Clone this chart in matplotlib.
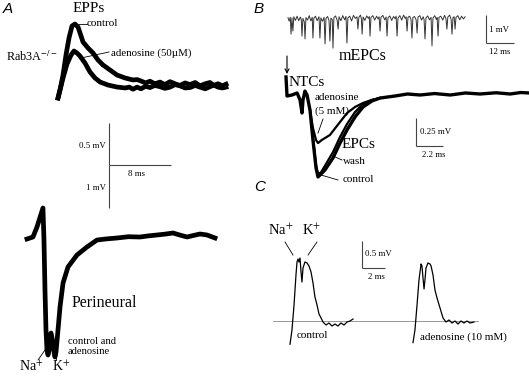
import numpy as np
import matplotlib
matplotlib.use("Agg")
import matplotlib.pyplot as plt

plt.rcParams['font.family'] = ['Liberation Serif', 'DejaVu Serif']
plt.rcParams['mathtext.fontset'] = 'stix'

W, H = 529, 376

# ---------------- data (ms, mV) ----------------
# Panel A: EPPs
EPP_T = [0, 0.26, 0.65, 1.03, 1.42, 1.81, 2.19, 2.58, 2.97, 3.23, 3.87, 4.52, 5.16, 5.81,
         6.71, 7.61, 8.65, 9.68, 10.2, 10.71, 11.3, 11.87, 12.5, 13.16, 13.8, 14.45, 15.1,
         15.74, 16.4, 17.03, 17.7, 18.32, 19.0, 19.61, 20.1, 20.65, 21.2, 21.68]
EPP_CONTROL = [-0.06, 0.036, 0.214, 0.452, 0.655, 0.798, 0.821, 0.786, 0.679, 0.607, 0.536,
               0.476, 0.393, 0.333, 0.274, 0.214, 0.179, 0.155, 0.16, 0.143, 0.12, 0.14,
               0.11, 0.13, 0.10, 0.135, 0.11, 0.09, 0.12, 0.10, 0.125, 0.085, 0.11, 0.125,
               0.09, 0.11, 0.085, 0.105]
EPP_T_ADO = [0, 0.26, 0.65, 1.16, 1.68, 2.06, 2.45, 2.84, 3.48, 4.13, 4.77, 5.42, 6.45, 7.61,
             8.65, 9.2, 9.68, 10.2, 10.71, 11.3, 11.87, 12.5, 13.16, 13.8, 14.45, 15.1, 15.74,
             16.4, 17.03, 17.7, 18.32, 19.0, 19.61, 20.1, 20.65, 21.2, 21.68]
EPP_ADENOSINE = [-0.06, 0.036, 0.179, 0.345, 0.452, 0.5, 0.476, 0.440, 0.357, 0.250, 0.179,
                 0.131, 0.095, 0.071, 0.060, 0.07, 0.045, 0.07, 0.05, 0.08, 0.065, 0.09,
                 0.075, 0.055, 0.07, 0.10, 0.085, 0.06, 0.065, 0.09, 0.07, 0.05, 0.075, 0.095,
                 0.07, 0.06, 0.07]

# Panel A: perineural
PERI_T = [0, 0.77, 1.29, 2.06, 2.19, 2.32, 2.45, 2.58, 2.71, 2.84, 2.97, 3.10, 3.23, 3.48,
          3.61, 3.74, 4.0, 4.26, 4.65, 5.29, 6.45, 7.74, 9.03, 10.3, 11.61, 13.1, 14.58,
          15.7, 16.77, 17.8, 18.84, 19.7, 20.65, 21.5, 22.32, 23.23, 24.26]
PERI_V = [-0.023, 0.023, 0.256, 0.698, -0.047, -1.209, -2.140, -2.605, -2.721, -2.605,
          -2.256, -2.209, -2.326, -2.651, -2.767, -2.651, -2.140, -1.605, -1.047, -0.674,
          -0.395, -0.209, -0.047, -0.02, 0.0, 0.03, 0.023, 0.05, 0.070, 0.09, 0.116, 0.07,
          0.023, 0.06, 0.093, 0.070, 0.0]

# Panel B: mEPCs (time ms, amplitude mV)
MEPC = [(0.0, 0.05), (0.5, -0.08), (1.0, 0.06), (1.3, -0.54), (1.7, 0.04), (2.1, -0.43),
        (2.5, 0.08), (3.2, -0.05), (3.9, 0.10), (4.6, -0.06), (5.3, 0.07), (5.7, -0.02),
        (6.0, -0.61), (6.4, 0.02), (7.0, -0.10), (7.3, -0.71), (7.7, 0.05), (8.4, -0.04),
        (9.1, 0.12), (9.8, -0.07), (10.4, 0.06), (10.7, -0.68), (11.1, 0.03), (11.8, 0.10),
        (12.5, -0.06), (13.3, 0.08), (13.7, -0.68), (14.1, 0.04), (14.8, -0.08), (15.5, 0.06),
        (15.9, -0.89), (16.3, 0.02), (17.0, 0.09), (17.6, -0.05), (18.0, -0.79), (18.4, 0.03),
        (19.0, -0.02), (19.3, -1.04), (19.7, 0.05), (20.4, 0.11), (21.1, -0.04), (21.5, -0.36),
        (21.9, 0.08), (22.7, -0.06), (23.5, 0.12), (24.3, -0.03), (24.9, 0.09), (25.3, -0.86),
        (25.7, 0.04), (26.5, 0.10), (27.3, -0.07), (28.1, 0.13), (28.9, 0.02), (29.6, 0.08),
        (30.0, -0.36), (30.4, 0.06), (31.1, 0.14), (31.5, 0.0), (31.8, -0.54), (32.2, 0.07),
        (33.0, -0.05), (33.8, 0.11), (34.5, 0.02), (34.9, 0.09), (35.2, -0.61), (35.6, 0.05),
        (36.4, 0.12), (37.2, -0.04), (38.0, 0.10), (38.7, 0.0), (39.1, 0.08), (39.5, -0.43),
        (39.9, 0.06), (40.7, 0.13), (41.5, -0.03), (42.1, 0.07), (42.5, -0.61), (42.9, 0.04),
        (43.7, 0.11), (44.5, -0.05), (45.3, 0.09), (46.0, 0.01), (46.4, 0.10), (46.8, -0.61),
        (47.2, 0.03), (48.0, 0.12), (48.8, -0.04), (49.6, 0.14), (50.3, 0.02), (50.7, 0.08),
        (51.1, -0.43), (51.5, 0.06), (52.2, 0.10), (52.8, -0.02), (53.2, -0.68), (53.6, 0.05),
        (54.3, 0.09), (55.0, -0.03), (55.4, -0.50), (55.8, 0.07), (56.6, 0.12), (57.3, -0.04),
        (58.0, 0.08), (58.4, -0.02), (58.8, -0.71), (59.2, 0.04), (60.0, 0.11), (60.7, -0.03),
        (61.4, 0.06), (61.8, -0.96), (62.2, 0.03), (63.0, 0.12), (63.7, -0.02), (64.0, 0.05),
        (64.4, -0.61), (64.8, 0.06), (65.6, 0.10), (66.4, -0.04), (67.2, 0.13), (67.8, 0.01),
        (68.2, -0.36), (68.6, 0.07), (69.4, 0.14), (70.0, -0.02), (70.4, -0.54), (70.8, 0.05),
        (71.3, 0.08), (71.7, -0.36), (72.1, 0.06), (72.9, 0.12), (73.7, -0.03), (74.5, 0.10),
        (75.3, 0.0), (76.0, 0.08)]

# Panel B: NTC / EPC traces
EPC_T = [-0.08, 0, 0.41, 0.82, 1.06, 1.22, 1.30, 1.46, 1.63, 1.87, 2.11, 2.36, 2.52, 2.69,
         3.09, 3.74, 4.31, 4.88, 5.53, 6.18, 6.91, 7.57, 8.78, 9.8, 10.82, 12.0, 13.27, 14.5,
         15.7, 17.0, 18.14, 19.0, 19.69]
EPC_CONTROL = [0.161, -0.009, 0.0, 0.018, -0.044, -0.161, -0.044, 0.035, 0.0, -0.134, -0.401,
               -0.651, -0.732, -0.714, -0.669, -0.562, -0.429, -0.312, -0.196, -0.107, -0.053,
               -0.027, -0.009, 0.009, 0.0, 0.013, 0.0, 0.018, 0.009, 0.02, 0.009, 0.022, 0.018]
EPC_T_ADO = [1.87, 2.11, 2.36, 2.52, 2.84, 3.49, 4.31, 4.88, 5.53, 6.18, 6.91, 7.57]
EPC_ADENOSINE = [-0.134, -0.295, -0.401, -0.429, -0.401, -0.357, -0.241, -0.161, -0.107,
                 -0.071, -0.044, -0.027]
EPC_T_WASH = [1.87, 2.11, 2.36, 2.52, 2.77, 3.17, 3.74, 4.31, 4.88, 5.53, 6.18, 6.91, 7.57]
EPC_WASH = [-0.134, -0.383, -0.625, -0.705, -0.690, -0.616, -0.509, -0.375, -0.259, -0.152,
            -0.080, -0.044, -0.027]

# Panel C
C_T_CONTROL = [0, 0.17, 0.35, 0.52, 0.61, 0.70, 0.78, 0.87, 0.96, 1.04, 1.13, 1.30, 1.48,
               1.65, 1.83, 2.0, 2.17, 2.35, 2.52, 2.70, 2.87, 3.13, 3.39, 3.65, 3.91, 4.17,
               4.43, 4.70, 4.96, 5.22, 5.48]
C_CONTROL = [-0.43, -0.17, 0.296, 0.852, 1.093, 1.148, 1.093, 1.167, 0.907, 0.722, 0.981,
             1.093, 1.074, 1.019, 0.907, 0.704, 0.444, 0.296, 0.130, 0.056, -0.019, -0.074,
             -0.037, -0.093, -0.056, -0.093, -0.037, -0.074, -0.019, 0.0, 0.037]
C_T_ADO = [0, 0.17, 0.35, 0.52, 0.70, 0.78, 0.87, 0.96, 1.04, 1.13, 1.30, 1.48, 1.57, 1.74,
           1.91, 2.09, 2.35, 2.61, 2.87, 3.13, 3.39, 3.65, 3.91, 4.17, 4.43, 4.70, 4.96, 5.30]
C_ADENOSINE = [-0.40, -0.167, 0.296, 0.759, 1.056, 1.019, 0.796, 0.593, 0.759, 0.981, 1.074,
               1.056, 1.019, 0.852, 0.574, 0.426, 0.241, 0.056, -0.019, 0.019, -0.037, 0.0,
               -0.056, 0.0, -0.037, 0.0, -0.037, -0.019]

# ---------------- figure ----------------
fig = plt.figure(figsize=(W / 100, H / 100), dpi=100)


def trace_axes(x0, y0, ppx, ppy):
    """Transparent full-figure axes whose data origin sits at pixel (x0, y0)."""
    ax = fig.add_axes([0, 0, 1, 1])
    ax.axis('off')
    ax.patch.set_alpha(0)
    ax.set_xlim(-x0 / ppx, (W - x0) / ppx)
    ax.set_ylim(-(H - y0) / ppy, y0 / ppy)
    ax.px = lambda px, py: ((px - x0) / ppx, (y0 - py) / ppy)
    return ax


SB = dict(color='#444444', lw=0.8, solid_capstyle='butt')

# EPPs
axe = trace_axes(58, 93, 7.75, 84)
axe.plot(EPP_T, EPP_CONTROL, color='black', lw=3.4, solid_joinstyle='round')
axe.plot(EPP_T_ADO, EPP_ADENOSINE, color='black', lw=3.4, solid_joinstyle='round')
cx, cy = axe.px(109, 165)
axe.plot([cx, cx], [cy, cy + 0.5], **SB)
axe.plot([cx, cx + 8], [cy, cy], **SB)

# Perineural
axp = trace_axes(27, 238, 7.75, 43)
axp.plot(PERI_T, PERI_V, color='black', lw=3.4, solid_joinstyle='round')
cx, cy = axp.px(109, 165)
axp.plot([cx, cx], [cy, cy - 1.0], **SB)

# mEPCs
axm = trace_axes(288, 19, 2.33, 28)
mt, mv = np.array(MEPC).T
axm.plot(mt, mv, color='#333333', lw=0.7)
cx, cy = axm.px(486, 43)
axm.plot([cx, cx], [cy, cy + 1.0], **SB)
axm.plot([cx, cx + 12], [cy, cy], **SB)

# NTC / EPCs
axb = trace_axes(287, 95, 12.3, 112)
axb.plot(EPC_T_WASH, EPC_WASH, color='black', lw=1.6)
axb.plot(EPC_T_ADO, EPC_ADENOSINE, color='black', lw=1.6)
axb.plot(EPC_T, EPC_CONTROL, color='black', lw=2.4, solid_joinstyle='round')
cx, cy = axb.px(416, 146)
axb.plot([cx, cx], [cy, cy + 0.25], **SB)
axb.plot([cx, cx + 2.2], [cy, cy], **SB)

# Panel C
axc = trace_axes(290, 321, 11.5, 54)
x_a, _ = axc.px(273, 0)
x_b, _ = axc.px(478, 0)
axc.plot([x_a, x_b], [0, 0], color='#888888', lw=0.6)
axc.plot(C_T_CONTROL, C_CONTROL, color='black', lw=0.9)
cx, cy = axc.px(362, 268)
axc.plot([cx, cx], [cy, cy + 0.5], **SB)
axc.plot([cx, cx + 2], [cy, cy], **SB)
axc2 = trace_axes(413, 321, 11.5, 54)
axc2.plot(C_T_ADO, C_ADENOSINE, color='black', lw=0.9)

# ---------------- text overlay (pixel coordinates) ----------------
ov = fig.add_axes([0, 0, 1, 1])
ov.set_xlim(0, W)
ov.set_ylim(H, 0)
ov.axis('off')
ov.patch.set_alpha(0)

sans_it = dict(family=['Liberation Sans', 'DejaVu Sans'], style='italic', fontsize=11)
ov.text(3, 2, 'A', va='top', ha='left', **sans_it)
ov.text(254, 2, 'B', va='top', ha='left', **sans_it)
ov.text(254, 180, 'C', va='top', ha='left', **sans_it)


def t(x, y, s, size, ha='left', va='center'):
    ov.text(x, y, s, fontsize=size, ha=ha, va=va)


def leader(x1, y1, x2, y2):
    ov.plot([x1, x2], [y1, y2], color='black', lw=0.6)


# Panel A labels
t(89, 9, 'EPPs', 11, ha='center')
t(6, 57, r'Rab3A$^{-/-}$', 8.8)
t(87, 24, 'control', 8)
leader(78, 24, 87, 24)
t(111, 53, 'adenosine (50µM)', 7.8)
leader(81, 58, 109, 52)
t(106, 146, '0.5 mV', 6.3, ha='right')
t(136, 174, '8 ms', 6.3, ha='center')
t(106, 188, '1 mV', 6.3, ha='right')
t(72, 303, 'Perineural', 11.5)
t(68, 341, 'control and', 7.6)
t(68, 351, 'adenosine', 7.6)
t(31, 367, r'Na$^{+}$', 10, ha='center')
t(61, 367, r'K$^{+}$', 10, ha='center')
leader(38, 360, 45, 350)
leader(56, 360, 56, 354)

# Panel B labels
t(363, 56, 'mEPCs', 11.5, ha='center')
t(489, 30, '1 mV', 6.3)
t(500, 52, '12 ms', 6.3, ha='center')
ov.annotate('', xy=(287, 74), xytext=(287, 56),
            arrowprops=dict(arrowstyle='->', lw=0.8, color='black',
                            shrinkA=0, shrinkB=0, mutation_scale=7))
t(289, 82, 'NTCs', 11)
t(315, 98, 'adenosine', 8)
t(315, 111, '(5 mM)', 8)
leader(318, 133, 323, 119)
t(342, 144, 'EPCs', 11)
t(343, 161, 'wash', 8)
leader(333, 156, 342, 160)
t(343, 180, 'control', 8)
leader(321, 175, 338, 180)
t(420, 132, '0.25 mV', 6.3)
t(434, 155, '2.2 ms', 6.3, ha='center')

# Panel C labels
t(281, 230, r'Na$^{+}$', 10.5, ha='center')
t(312, 230, r'K$^{+}$', 10.5, ha='center')
leader(285, 242, 293, 255)
leader(317, 242, 308, 255)
t(365, 254, '0.5 mV', 6.3)
t(376, 277, '2 ms', 6.3, ha='center')
t(297, 336, 'control', 8)
t(420, 337, 'adenosine (10 mM)', 8)

fig.savefig('out.png', dpi=100)
